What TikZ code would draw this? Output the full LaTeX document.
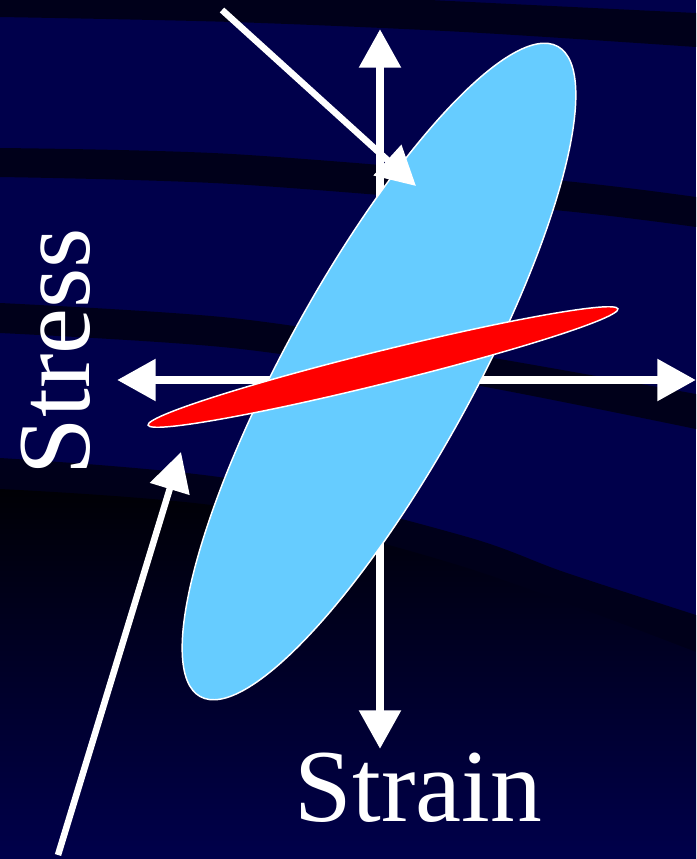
\documentclass[tikz,border=0pt]{standalone}
\usepackage{fontspec}
\setmainfont{Liberation Serif}
\usetikzlibrary{arrows.meta,shapes.geometric}
\definecolor{navy}{RGB}{0,0,75}
\definecolor{bandc}{RGB}{0,0,26}
\definecolor{deep}{RGB}{0,0,5}
\definecolor{sky}{RGB}{102,204,255}
\definecolor{redc}{RGB}{255,0,0}
\tikzset{
  tipbig/.tip={Triangle[width=30pt,length=29pt]},
  axisline/.style={draw=white, line width=6.4pt, {tipbig}-{tipbig}},
  pointer/.style={draw=white, line width=4.9pt, -{tipbig}},
  loop/.style={ellipse, draw=white, line width=1.1pt, inner sep=0pt},
  label/.style={text=white, inner sep=0pt, font=\fontsize{77.6}{90}\selectfont}
}
\begin{document}
\begin{tikzpicture}[x=0.75pt,y=-0.75pt]
\useasboundingbox (0,0) rectangle (696,859);
% background
\fill[navy] (0,0) rectangle (696,859);
\fill[bandc] plot[smooth] coordinates {(0,-20) (200,-12) (430,0) (696,13)}
  -- plot[smooth] coordinates {(696,47) (464,32) (232,22) (0,17)} -- cycle;
\fill[bandc] plot[smooth] coordinates {(0,148) (232,154) (554,180) (696,197)}
  -- plot[smooth] coordinates {(696,227) (554,210) (232,184) (0,177)} -- cycle;
\fill[bandc] plot[smooth] coordinates {(0,303) (232,318) (464,353) (696,394)}
  -- plot[smooth] coordinates {(696,429) (464,383) (232,348) (0,333)} -- cycle;
\fill[bandc] plot[smooth] coordinates {(0,458) (232,479) (464,536) (564,572) (696,615)}
  -- (696,859) -- (0,859) -- cycle;
\shade[top color=deep, bottom color=navy] plot[smooth] coordinates {(0,489) (232,508) (464,567) (696,652)}
  -- (696,859) -- (0,859) -- cycle;
% coordinates
\coordinate (vtop) at (380,29);
\coordinate (vbot) at (380,749);
\coordinate (hleft) at (117,380);
\coordinate (hright) at (696,380);
\coordinate (d1s) at (222,10);
\coordinate (d1e) at (416,186);
\coordinate (d2s) at (58,855);
\coordinate (d2e) at (181,452);
% axes
\draw[axisline] (vtop) -- (vbot);
\draw[axisline] (hleft) -- (hright);
% loops
\node[loop, fill=sky, minimum width=556.5pt, minimum height=141pt, rotate=61.2] (elastic) at (379,371.5) {};
\node[loop, fill=redc, minimum width=363pt, minimum height=24.5pt, rotate=13.9] (stiff) at (383,367) {};
% pointers
\draw[pointer] (d1s) -- (d1e);
\draw[pointer] (d2s) -- (d2e);
% labels
\node[label, anchor=base] (strain) at (418.5,821) {Strain};
\node[label, anchor=base, rotate=90] (stress) at (89,351.5) {Stress};
\end{tikzpicture}
\end{document}
